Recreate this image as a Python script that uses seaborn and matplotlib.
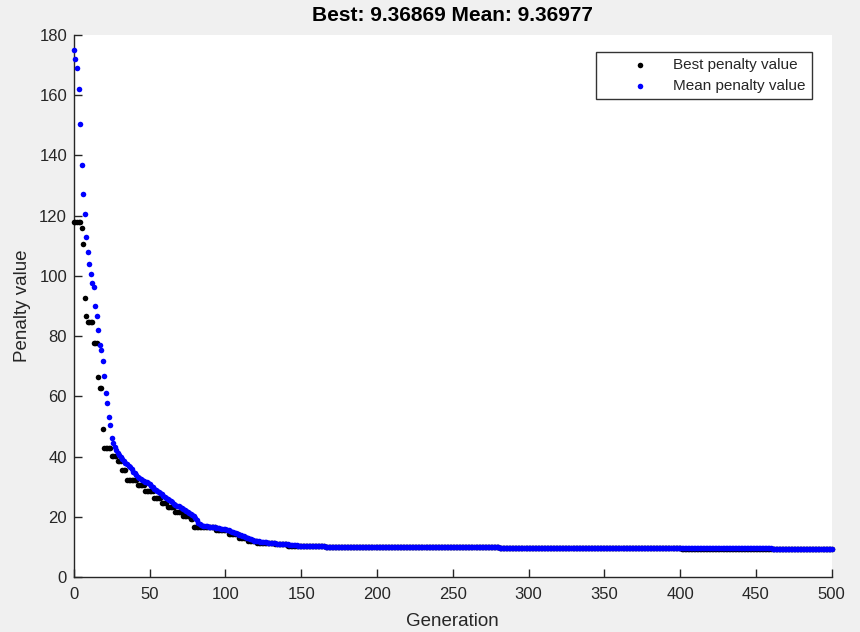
import numpy as np
import pandas as pd
import matplotlib
matplotlib.use("Agg")
import matplotlib.pyplot as plt
import seaborn as sns

# Best penalty per generation, stored as (value, number of generations it held)
best_values = [117.7, 115.8, 110.7, 92.7, 86.6, 84.5, 77.8, 66.3, 62.9, 49.0,
               42.9, 40.1, 38.4, 35.5, 32.2, 30.6, 28.6, 26.1, 24.5, 23.1,
               21.6, 20.3, 19.2, 16.5, 15.5, 14.2, 13.0, 12.0, 11.2, 10.8,
               10.3, 10.15, 10.05, 9.95, 9.8, 9.65, 9.55, 9.45, 9.36869]
best_runs = [5, 1, 1, 1, 1, 4, 3, 1, 2, 1,
             5, 4, 3, 3, 7, 5, 6, 5, 4, 5,
             5, 5, 2, 15, 8, 7, 6, 6, 12, 8,
             10, 15, 25, 40, 50, 60, 60, 60, 40]

# Mean penalty, generations 0-150
mean_early = [174.8, 171.9, 169.1, 161.9, 150.4, 136.8, 127.3, 120.5, 112.8, 107.9,
              104.0, 100.5, 97.6, 96.2, 90.0, 86.5, 82.0, 76.9, 75.4, 71.7,
              66.8, 61.2, 57.9, 53.0, 50.6, 46.3, 44.4, 43.2, 42.1, 41.2,
              40.5, 39.8, 39.1, 38.5, 37.9, 37.4, 36.9, 36.4, 35.7, 35.0,
              34.4, 33.8, 33.3, 32.9, 32.6, 32.3, 32.0, 31.7, 31.4, 31.1,
              30.8, 30.3, 29.8, 29.3, 28.9, 28.6, 28.3, 27.9, 27.5, 27.0,
              26.6, 26.2, 25.9, 25.6, 25.2, 24.8, 24.4, 24.0, 23.7, 23.5,
              23.3, 23.0, 22.6, 22.2, 21.9, 21.6, 21.3, 21.0, 20.6, 20.2,
              19.6, 18.8, 18.0, 17.5, 17.2, 17.0, 16.9, 16.85, 16.8, 16.75,
              16.7, 16.65, 16.6, 16.55, 16.4, 16.3, 16.2, 16.1, 16.0, 15.9,
              15.8, 15.7, 15.5, 15.3, 15.1, 14.9, 14.7, 14.5, 14.3, 14.1,
              13.9, 13.7, 13.5, 13.3, 13.1, 12.9, 12.7, 12.5, 12.3, 12.1,
              12.0, 11.9, 11.8, 11.7, 11.6, 11.6, 11.5, 11.5, 11.4, 11.4,
              11.3, 11.3, 11.2, 11.2, 11.1, 11.1, 11.0, 11.0, 10.9, 10.9,
              10.8, 10.8, 10.7, 10.7, 10.6, 10.6, 10.5, 10.5, 10.4, 10.4,
              10.3]
# Mean penalty, generations 151-500 (nearly flat)
mean_late_values = [10.2, 10.1, 10.0, 9.85, 9.7, 9.6, 9.5, 9.36977]
mean_late_runs = [15, 25, 40, 50, 60, 60, 60, 40]

x_ticks = list(range(0, 501, 50))
y_ticks = list(range(0, 181, 20))

best = np.repeat(best_values, best_runs)
mean = np.concatenate([mean_early, np.repeat(mean_late_values, mean_late_runs)])
gens = np.arange(len(best))
df = pd.DataFrame({"Generation": gens, "best": best, "mean": mean})

sns.set_style("ticks")
plt.rcParams["font.family"] = ["Liberation Sans", "DejaVu Sans"]
dark = "#262626"

fig = plt.figure(figsize=(8.6, 6.32), dpi=100, facecolor="#f0f0f0")
ax = fig.add_axes([0.086, 0.087, 0.881, 0.858])
ax.set_facecolor("white")

sns.scatterplot(data=df, x="Generation", y="best", color="black", s=16,
                linewidth=0, label="Best penalty value", ax=ax, clip_on=False, zorder=3)
sns.scatterplot(data=df, x="Generation", y="mean", color="#0000ff", s=16,
                linewidth=0, label="Mean penalty value", ax=ax, clip_on=False, zorder=4)

ax.set_xlim(0, 500)
ax.set_ylim(0, 180)
ax.set_xticks(x_ticks)
ax.set_yticks(y_ticks)
ax.tick_params(direction="in", length=6, width=1, color=dark, labelcolor=dark)
ax.tick_params(axis="y", pad=5)
ax.tick_params(axis="x", pad=7)
for lab in ax.get_xticklabels() + ax.get_yticklabels():
    lab.set_family(["Liberation Sans Narrow", "Liberation Sans", "DejaVu Sans"])
    lab.set_fontsize(12)
sns.despine(ax=ax)
for s in ["left", "bottom"]:
    ax.spines[s].set_color(dark)
    ax.spines[s].set_linewidth(1)

ax.set_xlabel("Generation", fontsize=13.5, color=dark, labelpad=8)
ax.set_ylabel("Penalty value", fontsize=13.5, color=dark, labelpad=6)
ax.set_title("Best: 9.36869 Mean: 9.36977", fontsize=15, fontweight="bold",
             color="black", pad=10)

leg = ax.legend(loc="upper right", bbox_to_anchor=(0.9736, 0.9686), fontsize=11,
                frameon=True, fancybox=False, edgecolor="black", borderaxespad=0,
                handlelength=5.0, handletextpad=-0.33, borderpad=0.4,
                labelspacing=0.45, markerscale=1.0)
leg.get_frame().set_linewidth(1)
for t in leg.get_texts():
    t.set_color(dark)

fig.savefig("out.png", dpi=100, facecolor=fig.get_facecolor())
